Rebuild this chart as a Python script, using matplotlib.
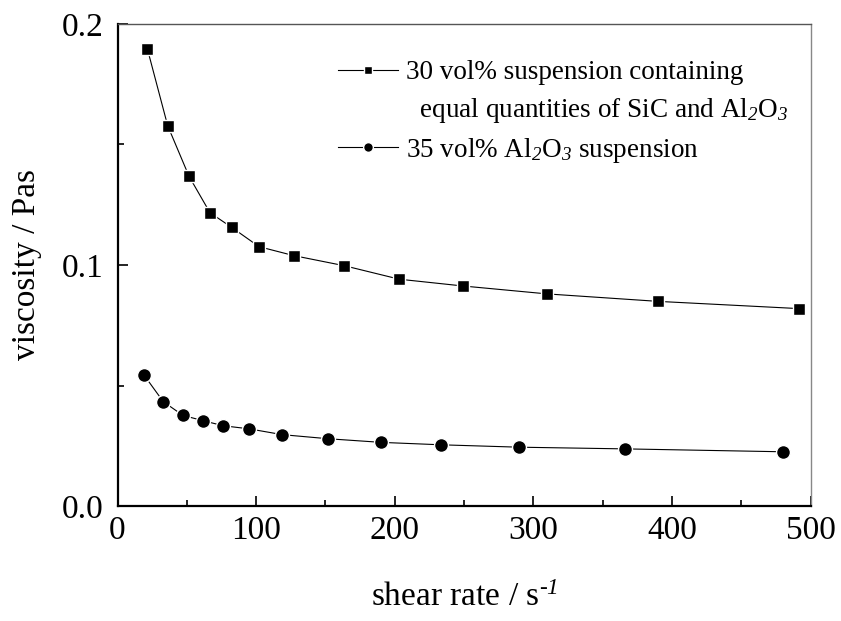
import matplotlib
matplotlib.use("Agg")
import matplotlib.pyplot as plt
from matplotlib.lines import Line2D
from matplotlib.ticker import MultipleLocator

plt.rcParams['font.family'] = ['Liberation Serif', 'DejaVu Serif']
plt.rcParams['mathtext.fontset'] = 'custom'
# only sub/superscript digits are in math mode; they are italic in the reference
plt.rcParams['mathtext.rm'] = 'Liberation Serif:italic'
plt.rcParams['mathtext.it'] = 'Liberation Serif:italic'

# data
shear_sic = [21.5, 36.2, 51.6, 66.7, 82.4, 102.1, 127.1, 163.6, 203.3, 249.0, 310.0, 390.1, 491.8]
visc_sic = [0.1898, 0.1578, 0.1368, 0.1217, 0.1156, 0.1076, 0.1039, 0.0997, 0.0941, 0.0913, 0.0880, 0.0849, 0.0819]
shear_al = [18.9, 33.0, 47.2, 61.7, 76.3, 95.1, 118.9, 152.1, 190.3, 233.1, 289.8, 366.1, 479.8]
visc_al = [0.0545, 0.0433, 0.0376, 0.0354, 0.0333, 0.0320, 0.0296, 0.0279, 0.0264, 0.0254, 0.0244, 0.0237, 0.0225]
label_sic_1 = "30 vol% suspension containing"
label_sic_2 = "  equal quantities of SiC and Al$_{2}$O$_{3}$"
label_al = "35 vol% Al$_{2}$O$_{3}$ suspension"
xticks = [0, 100, 200, 300, 400, 500]
xticklabels = ['0', '100', '200', '300', '400', '500']
yticks = [0.0, 0.1, 0.2]
yticklabels = ['0.0', '0.1', '0.2']
xlabel = "shear rate / s$^{\u2010 1}$"
ylabel = "viscosity / Pas"

fig = plt.figure(figsize=(8.41, 6.21), dpi=100)
ax = fig.add_axes([117.5/841, 1-506/621, (810.7-117.5)/841, (506-24)/621])

h1, = ax.plot(shear_sic, visc_sic, '-', color='black', lw=0.8, marker='s', ms=9,
              mfc='black', mec='white', mew=1.0)
h2, = ax.plot(shear_al, visc_al, '-', color='black', lw=0.8, marker='o', ms=10,
              mfc='black', mec='white', mew=1.0)

ax.set_xlim(0, 500)
ax.set_ylim(0, 0.2)
ax.xaxis.set_minor_locator(MultipleLocator(50))
ax.yaxis.set_minor_locator(MultipleLocator(0.05))
ax.set_xticks(xticks)
ax.set_xticklabels(xticklabels)
ax.set_yticks(yticks)
ax.set_yticklabels(yticklabels)
ax.tick_params(which='both', direction='in', top=False, right=False, labelsize=24, width=1.2)
ax.tick_params(which='major', length=7)
ax.tick_params(axis='x', which='major', pad=7)
ax.tick_params(axis='y', which='major', pad=10)
ax.tick_params(which='minor', length=4)

for s in ['left', 'bottom']:
    ax.spines[s].set_linewidth(1.6)
    ax.spines[s].set_color('black')
ax.spines['top'].set_color('#555555')
ax.spines['top'].set_linewidth(1.0)
ax.spines['right'].set_color('#888888')
ax.spines['right'].set_linewidth(1.0)

ax.set_xlabel(xlabel, fontsize=24, labelpad=26)
ax.set_ylabel(ylabel, fontsize=24, labelpad=14)

blank = Line2D([], [], color='none')
leg = ax.legend([h1, blank, h2], [label_sic_1, label_sic_2, label_al],
                loc='upper left', bbox_to_anchor=((338-117.5)/693.2, (506-60)/482),
                frameon=False, fontsize=19.5, handlelength=2.2, handletextpad=0.3,
                borderpad=0, borderaxespad=0, markerscale=0.7, labelspacing=0.4)

fig.savefig('out.png', dpi=100)
